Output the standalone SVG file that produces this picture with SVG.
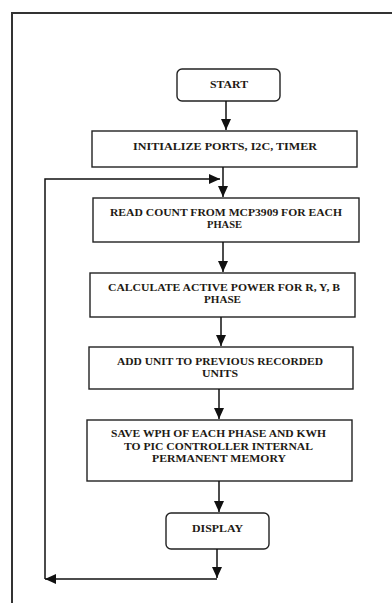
<svg xmlns="http://www.w3.org/2000/svg" width="392" height="603" viewBox="0 0 392 603">
<style>
.frame{fill:none;stroke:#333;stroke-width:2}
.box{fill:#fff;stroke:#222;stroke-width:1.4}
.t{font-family:"Liberation Serif","Times New Roman",serif;font-weight:bold;font-size:11px;fill:#1e1a14;text-anchor:middle}
.c{fill:none;stroke:#111;stroke-width:1.5}
</style>
<defs>
<marker id="ah" markerUnits="userSpaceOnUse" markerWidth="12" markerHeight="12" viewBox="0 0 12 12" refX="11" refY="6" orient="auto">
<path d="M0 1 L11 6 L0 11 Z" fill="#111"/>
</marker>
</defs>
<rect width="392" height="603" fill="#fff"/>
<path class="frame" d="M12 610 V13 H400"/>
<g id="start"><rect class="box" x="177" y="69" width="103" height="32" rx="5"/><text class="t" x="229" y="88" textLength="38" lengthAdjust="spacingAndGlyphs">START</text></g>
<g id="init"><rect class="box" x="92" y="131" width="265" height="36"/><text class="t" x="225" y="150" textLength="184" lengthAdjust="spacingAndGlyphs">INITIALIZE PORTS, I2C, TIMER</text></g>
<g id="read"><rect class="box" x="93" y="198" width="266" height="44"/><text class="t" x="226" y="216" textLength="232" lengthAdjust="spacingAndGlyphs">READ COUNT FROM MCP3909 FOR EACH</text><text class="t" x="224.5" y="228" textLength="35" lengthAdjust="spacingAndGlyphs">PHASE</text></g>
<g id="calc"><rect class="box" x="90" y="273" width="265" height="44"/><text class="t" x="224" y="291" textLength="232" lengthAdjust="spacingAndGlyphs">CALCULATE ACTIVE POWER FOR R, Y, B</text><text class="t" x="222.5" y="303" textLength="37" lengthAdjust="spacingAndGlyphs">PHASE</text></g>
<g id="add"><rect class="box" x="89" y="347" width="264" height="42"/><text class="t" x="220" y="365" textLength="206" lengthAdjust="spacingAndGlyphs">ADD UNIT TO PREVIOUS RECORDED</text><text class="t" x="220" y="377" textLength="36" lengthAdjust="spacingAndGlyphs">UNITS</text></g>
<g id="save"><rect class="box" x="87" y="420" width="265" height="61"/><text class="t" x="218.5" y="437" textLength="215" lengthAdjust="spacingAndGlyphs">SAVE WPH OF EACH PHASE AND KWH</text><text class="t" x="218.5" y="450" textLength="189" lengthAdjust="spacingAndGlyphs">TO PIC CONTROLLER INTERNAL</text><text class="t" x="219" y="462" textLength="134" lengthAdjust="spacingAndGlyphs">PERMANENT MEMORY</text></g>
<g id="display"><rect class="box" x="166" y="513" width="103" height="36" rx="5"/><text class="t" x="217.5" y="532" textLength="51" lengthAdjust="spacingAndGlyphs">DISPLAY</text></g>
<g id="connectors">
<path class="c" d="M226 101 V130" marker-end="url(#ah)"/>
<path class="c" d="M223 167 V197" marker-end="url(#ah)"/>
<path class="c" d="M223 242 V272" marker-end="url(#ah)"/>
<path class="c" d="M221 317 V346" marker-end="url(#ah)"/>
<path class="c" d="M219 389 V419" marker-end="url(#ah)"/>
<path class="c" d="M219 481 V512" marker-end="url(#ah)"/>
<path class="c" d="M217 549 V578" marker-end="url(#ah)"/>
<path class="c" d="M217 579 H45" marker-end="url(#ah)"/>
<path class="c" d="M45 579 V179 H220" marker-end="url(#ah)"/>
</g>
</svg>
